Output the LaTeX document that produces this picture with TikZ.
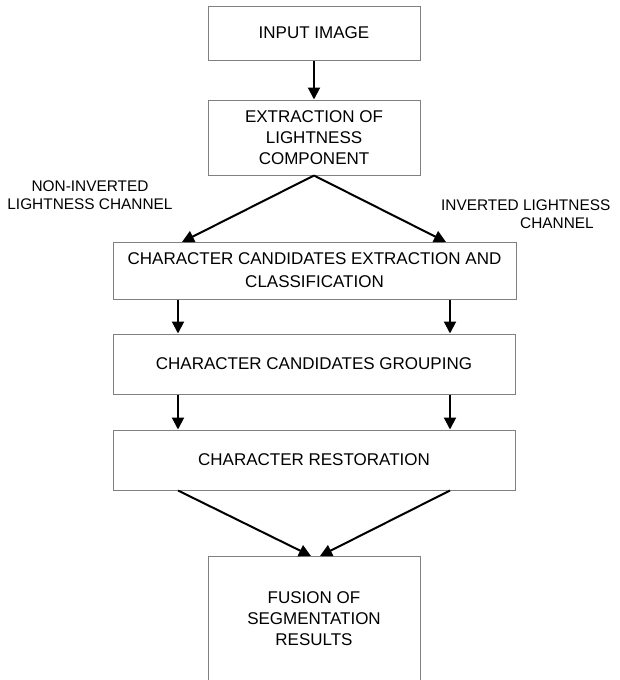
\documentclass[tikz,border=0pt]{standalone}
\usepackage{fontspec}
\setmainfont{Liberation Sans}
\usetikzlibrary{arrows.meta}
\begin{document}
\begin{tikzpicture}[x=1pt,y=-1pt,
  box/.style={draw={rgb,255:red,128;green,128;blue,128}, line width=1pt, align=center,
    font=\fontsize{17}{21}\selectfont, inner sep=0pt, fill=white},
  lbl/.style={font=\fontsize{15.4}{18}\selectfont, inner sep=0pt},
  arr/.style={-{Triangle[length=12pt,width=12pt]}, line width=2pt}]
\useasboundingbox (0,0) rectangle (619,680);
\node[box, minimum width=212pt, minimum height=54pt] (b1) at (314,33) {INPUT IMAGE};
\node[box, minimum width=212pt, minimum height=75pt] (b2) at (314,137.5) {EXTRACTION OF\\LIGHTNESS\\COMPONENT};
\node[box, minimum width=403pt, minimum height=57pt, font=\fontsize{17}{23}\selectfont] (b3) at (314.5,270.5) {CHARACTER CANDIDATES EXTRACTION AND\\CLASSIFICATION};
\node[box, minimum width=402pt, minimum height=60pt] (b4) at (314,364) {CHARACTER CANDIDATES GROUPING};
\node[box, minimum width=402pt, minimum height=60pt] (b5) at (314,460) {CHARACTER RESTORATION};
\node[box, minimum width=212pt, minimum height=126pt] (b6) at (314,619) {FUSION OF\\SEGMENTATION\\RESULTS};
\node[lbl, align=center] (l1) at (90,195) {NON-INVERTED\\LIGHTNESS CHANNEL};
\node[lbl, align=left, anchor=north west] (l2) at (441,200) {INVERTED LIGHTNESS\\\hspace*{79pt}CHANNEL};
\coordinate (lx) at (178,0);
\coordinate (rx) at (450,0);
\coordinate (t1) at (182,242);
\coordinate (t2) at (446,242);
\coordinate (f1) at (311,556);
\coordinate (f2) at (320,556);
\draw[arr] (b1) -- (b2);
\draw[arr] (b2.south) -- (t1);
\draw[arr] (b2.south) -- (t2);
\draw[arr] (b3.south -| lx) -- (b4.north -| lx);
\draw[arr] (b3.south -| rx) -- (b4.north -| rx);
\draw[arr] (b4.south -| lx) -- (b5.north -| lx);
\draw[arr] (b4.south -| rx) -- (b5.north -| rx);
\draw[arr] (b5.south -| lx) -- (f1);
\draw[arr] (b5.south -| rx) -- (f2);
\end{tikzpicture}
\end{document}
